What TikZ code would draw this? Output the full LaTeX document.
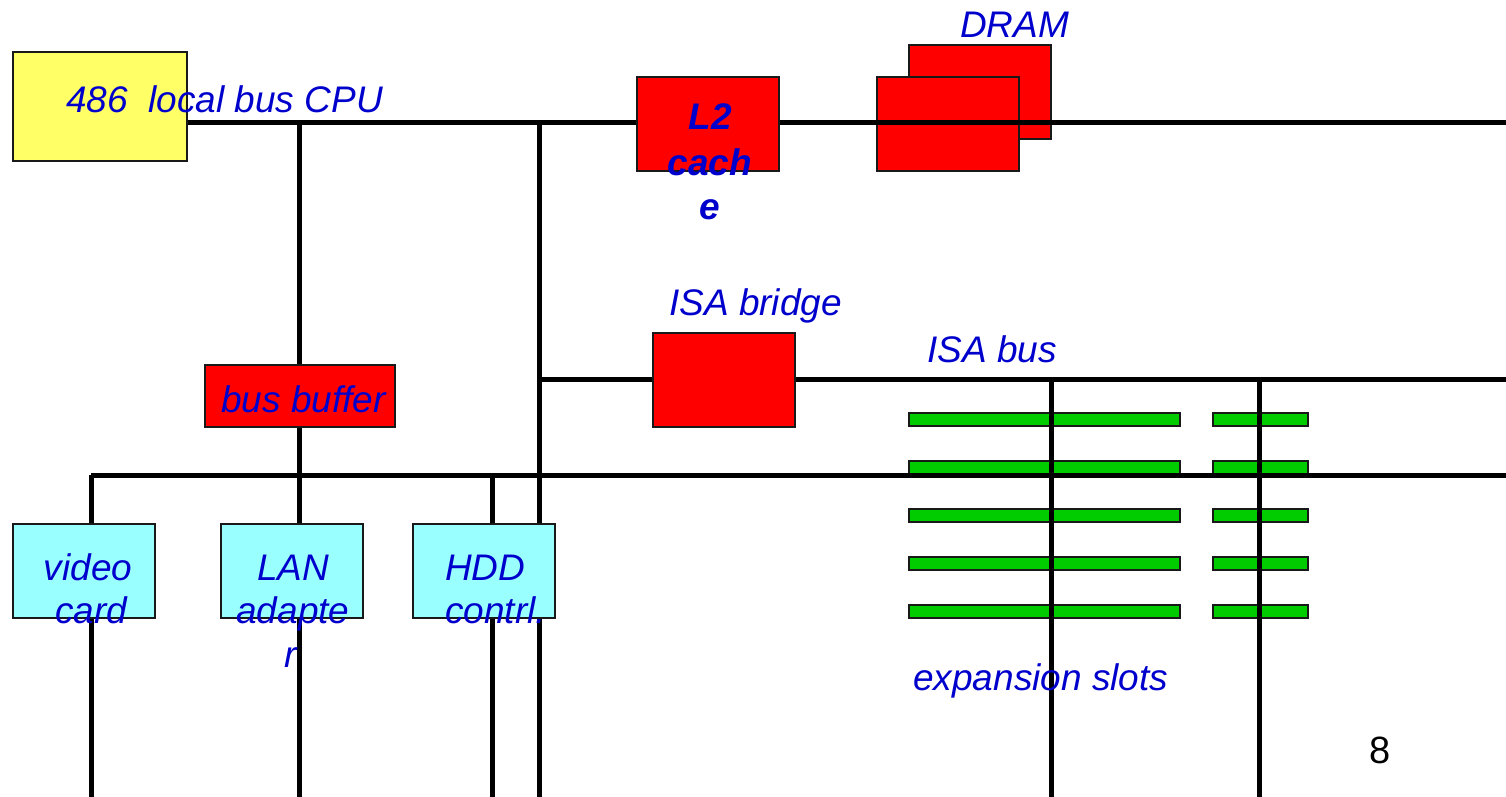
\documentclass[tikz,border=0pt]{standalone}
\usepackage{fontspec}
\setmainfont{Liberation Sans}
\definecolor{lblblue}{RGB}{0,0,204}
\definecolor{boxred}{RGB}{255,0,0}
\definecolor{cpuyellow}{RGB}{255,255,102}
\definecolor{periphcyan}{RGB}{153,255,255}
\definecolor{slotgreen}{RGB}{0,204,0}
\definecolor{edge}{RGB}{25,25,25}
\begin{document}
\begin{tikzpicture}[x=1pt,y=-1pt,
  box/.style={draw=edge, line width=2.2pt, inner sep=0pt, anchor=north west},
  redbox/.style={box, fill=boxred},
  cpubox/.style={box, fill=cpuyellow},
  periph/.style={box, fill=periphcyan, minimum width=142, minimum height=94},
  slot/.style={box, fill=slotgreen, minimum height=13},
  bus/.style={line width=5pt},
  lbl/.style={text=lblblue, font=\fontsize{37}{44}\selectfont\itshape, inner sep=0pt, anchor=base west},
  lblc/.style={lbl, anchor=base},
  lblb/.style={lblc, font=\fontsize{37}{44}\selectfont\itshape\bfseries}
]
\useasboundingbox (0,0) rectangle (1506,797);
\fill[white] (0,0) rectangle (1506,797);

% DRAM (under the bus)
\node[redbox, minimum width=142, minimum height=94] (dramback) at (908,44) {};
\node[redbox, minimum width=142, minimum height=94] (dramfront) at (876,76) {};

% expansion slots
\foreach \i/\y in {1/412,2/460,3/508,4/556,5/604}{
  \node[slot, minimum width=271] (slotL\i) at (908,\y) {};
  \node[slot, minimum width=95] (slotR\i) at (1212,\y) {};
}

% bus coordinates
\coordinate (lbR) at (1506,123);
\coordinate (tapA) at (299,123);
\coordinate (tapB) at (539,123);
\coordinate (isaL) at (539,379);
\coordinate (isaR) at (1506,379);
\coordinate (pbL) at (91,475);
\coordinate (pbR) at (1506,475);
\coordinate (s1top) at (1051,379);
\coordinate (s2top) at (1259,379);
\coordinate (s1bot) at (1051,797);
\coordinate (s2bot) at (1259,797);
\coordinate (vBot) at (91,797);
\coordinate (lanBot) at (299,797);
\coordinate (hddBot) at (492,797);
\coordinate (hddTop) at (492,475);
\coordinate (mainBot) at (539,797);

% CPU node defined first for anchors
\node[cpubox, minimum width=174, minimum height=109] (cpu) at (12,51) {};

% bus lines
\draw[bus] (cpu.east |- lbR) -- (lbR);
\draw[bus] (tapA) -- (lanBot);
\draw[bus] (tapB) -- (mainBot);
\draw[bus] (isaL) -- (isaR);
\draw[bus] (pbL) -- (pbR);
\draw[bus] (pbL) -- (vBot);
\draw[bus] (hddTop) -- (hddBot);
\draw[bus] (s1top) -- (s1bot);
\draw[bus] (s2top) -- (s2bot);

% boxes on top of lines
\node[cpubox, minimum width=174, minimum height=109] at (12,51) {};
\node[redbox, minimum width=142, minimum height=94] (l2) at (636,76) {};
\node[redbox, minimum width=142, minimum height=94] (isabr) at (652,332) {};
\node[redbox, minimum width=190, minimum height=62] (bufr) at (204,364) {};
\node[periph] (video) at (12,523) {};
\node[periph] (lan) at (220,523) {};
\node[periph] (hdd) at (412,523) {};

% labels
\node[lbl] (tcpu) at (66,113) {486\ \ local bus CPU};
\node[lbl] (tdram) at (960,38) {DRAM};
\node[lblb] (tl2a) at (710,130) {L2};
\node[lblb] (tl2b) at (710,175) {cach};
\node[lblb] (tl2c) at (710,219) {e};
\node[lbl] (tisabr) at (669,315) {ISA bridge};
\node[lbl] (tisabus) at (927,362) {ISA bus};
\node[lbl] (tbuf) at (221,412) {bus buffer};
\node[lblc] (tva) at (88,580) {video};
\node[lblc] (tvb) at (91,623) {card};
\node[lblc] (tla) at (293,580) {LAN};
\node[lblc] (tlb) at (293,623) {adapte};
\node[lblc] (tlc) at (291,667) {r};
\node[lbl] (tha) at (445,580) {HDD};
\node[lbl] (thb) at (445,623) {contrl.};
\node[lbl] (texp) at (913,690) {expansion slots};
\node[inner sep=0pt, anchor=base, font=\fontsize{38}{44}\selectfont] (pg) at (1380,763) {8};
\end{tikzpicture}
\end{document}
